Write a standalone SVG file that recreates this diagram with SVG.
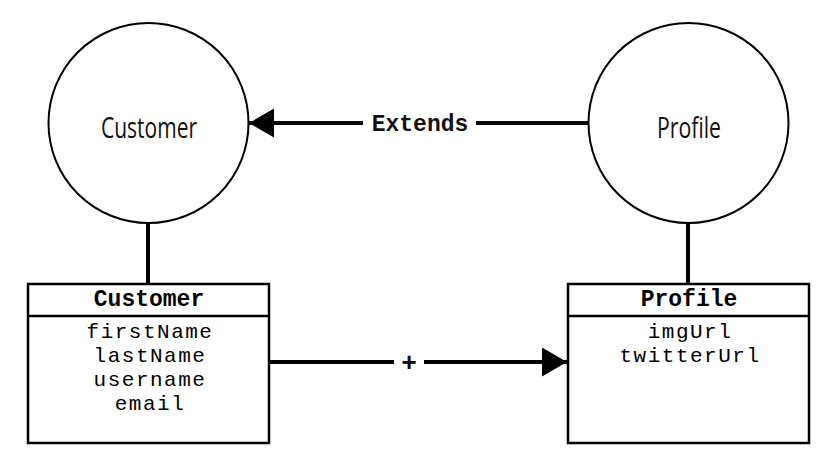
<svg xmlns="http://www.w3.org/2000/svg" width="835" height="468" viewBox="0 0 835 468">
<style>
.circ{fill:#fff;stroke:#000;stroke-width:2}
.box{fill:#fff;stroke:#000;stroke-width:2.5}
.conn{fill:none;stroke:#000;stroke-width:4}
.ctext{font-family:"Open Sans","Liberation Sans",sans-serif;font-weight:400;font-size:29px;fill:#111;text-anchor:middle}
.head{font-family:"Liberation Mono","Courier New",monospace;font-weight:bold;font-size:23px;fill:#000;text-anchor:middle}
.attr{font-family:"Liberation Mono","Courier New",monospace;font-size:21px;letter-spacing:1.5px;fill:#000;text-anchor:middle}
.lbl{font-family:"Liberation Mono","Courier New",monospace;font-weight:bold;font-size:23px;fill:#111;text-anchor:middle}
.plus{font-family:"Liberation Sans",Arial,sans-serif;font-weight:bold;font-size:26px;fill:#000;text-anchor:middle}
</style>
<defs>
<marker id="arr" viewBox="0 0 25 29" refX="25" refY="14.5" markerWidth="25" markerHeight="29" markerUnits="userSpaceOnUse" orient="auto">
<path d="M0,0 L25,14.5 L0,29 Z" fill="#000"/>
</marker>
</defs>
<rect width="835" height="468" fill="#fff"/>
<g id="connectors">
<line class="conn" x1="148" y1="223" x2="148" y2="284"/>
<line class="conn" x1="688" y1="223" x2="688" y2="284"/>
<line class="conn" x1="588" y1="123" x2="249" y2="123" marker-end="url(#arr)"/>
<rect x="363" y="110" width="113" height="26" fill="#fff"/>
<text class="lbl" x="420" y="131">Extends</text>
<line class="conn" x1="269" y1="362" x2="567" y2="362" marker-end="url(#arr)"/>
<rect x="394" y="349" width="30" height="26" fill="#fff"/>
<text class="plus" x="409" y="371">+</text>
</g>
<g id="customer-entity">
<circle class="circ" cx="148.5" cy="123" r="100"/>
<text class="ctext" x="149" y="138" textLength="96" lengthAdjust="spacingAndGlyphs">Customer</text>
</g>
<g id="profile-entity">
<circle class="circ" cx="688.5" cy="123" r="100"/>
<text class="ctext" x="689" y="138" textLength="64" lengthAdjust="spacingAndGlyphs">Profile</text>
</g>
<g id="customer-class">
<rect class="box" x="28" y="284" width="241" height="159"/>
<line class="box" x1="28" y1="316" x2="269" y2="316"/>
<text class="head" x="149" y="306">Customer</text>
<text class="attr" x="150" y="338">firstName</text>
<text class="attr" x="150" y="362">lastName</text>
<text class="attr" x="150" y="386">username</text>
<text class="attr" x="150" y="410">email</text>
</g>
<g id="profile-class">
<rect class="box" x="568" y="284" width="241" height="159"/>
<line class="box" x1="568" y1="316" x2="809" y2="316"/>
<text class="head" x="689" y="306">Profile</text>
<text class="attr" x="690" y="338">imgUrl</text>
<text class="attr" x="690" y="362">twitterUrl</text>
</g>
</svg>
